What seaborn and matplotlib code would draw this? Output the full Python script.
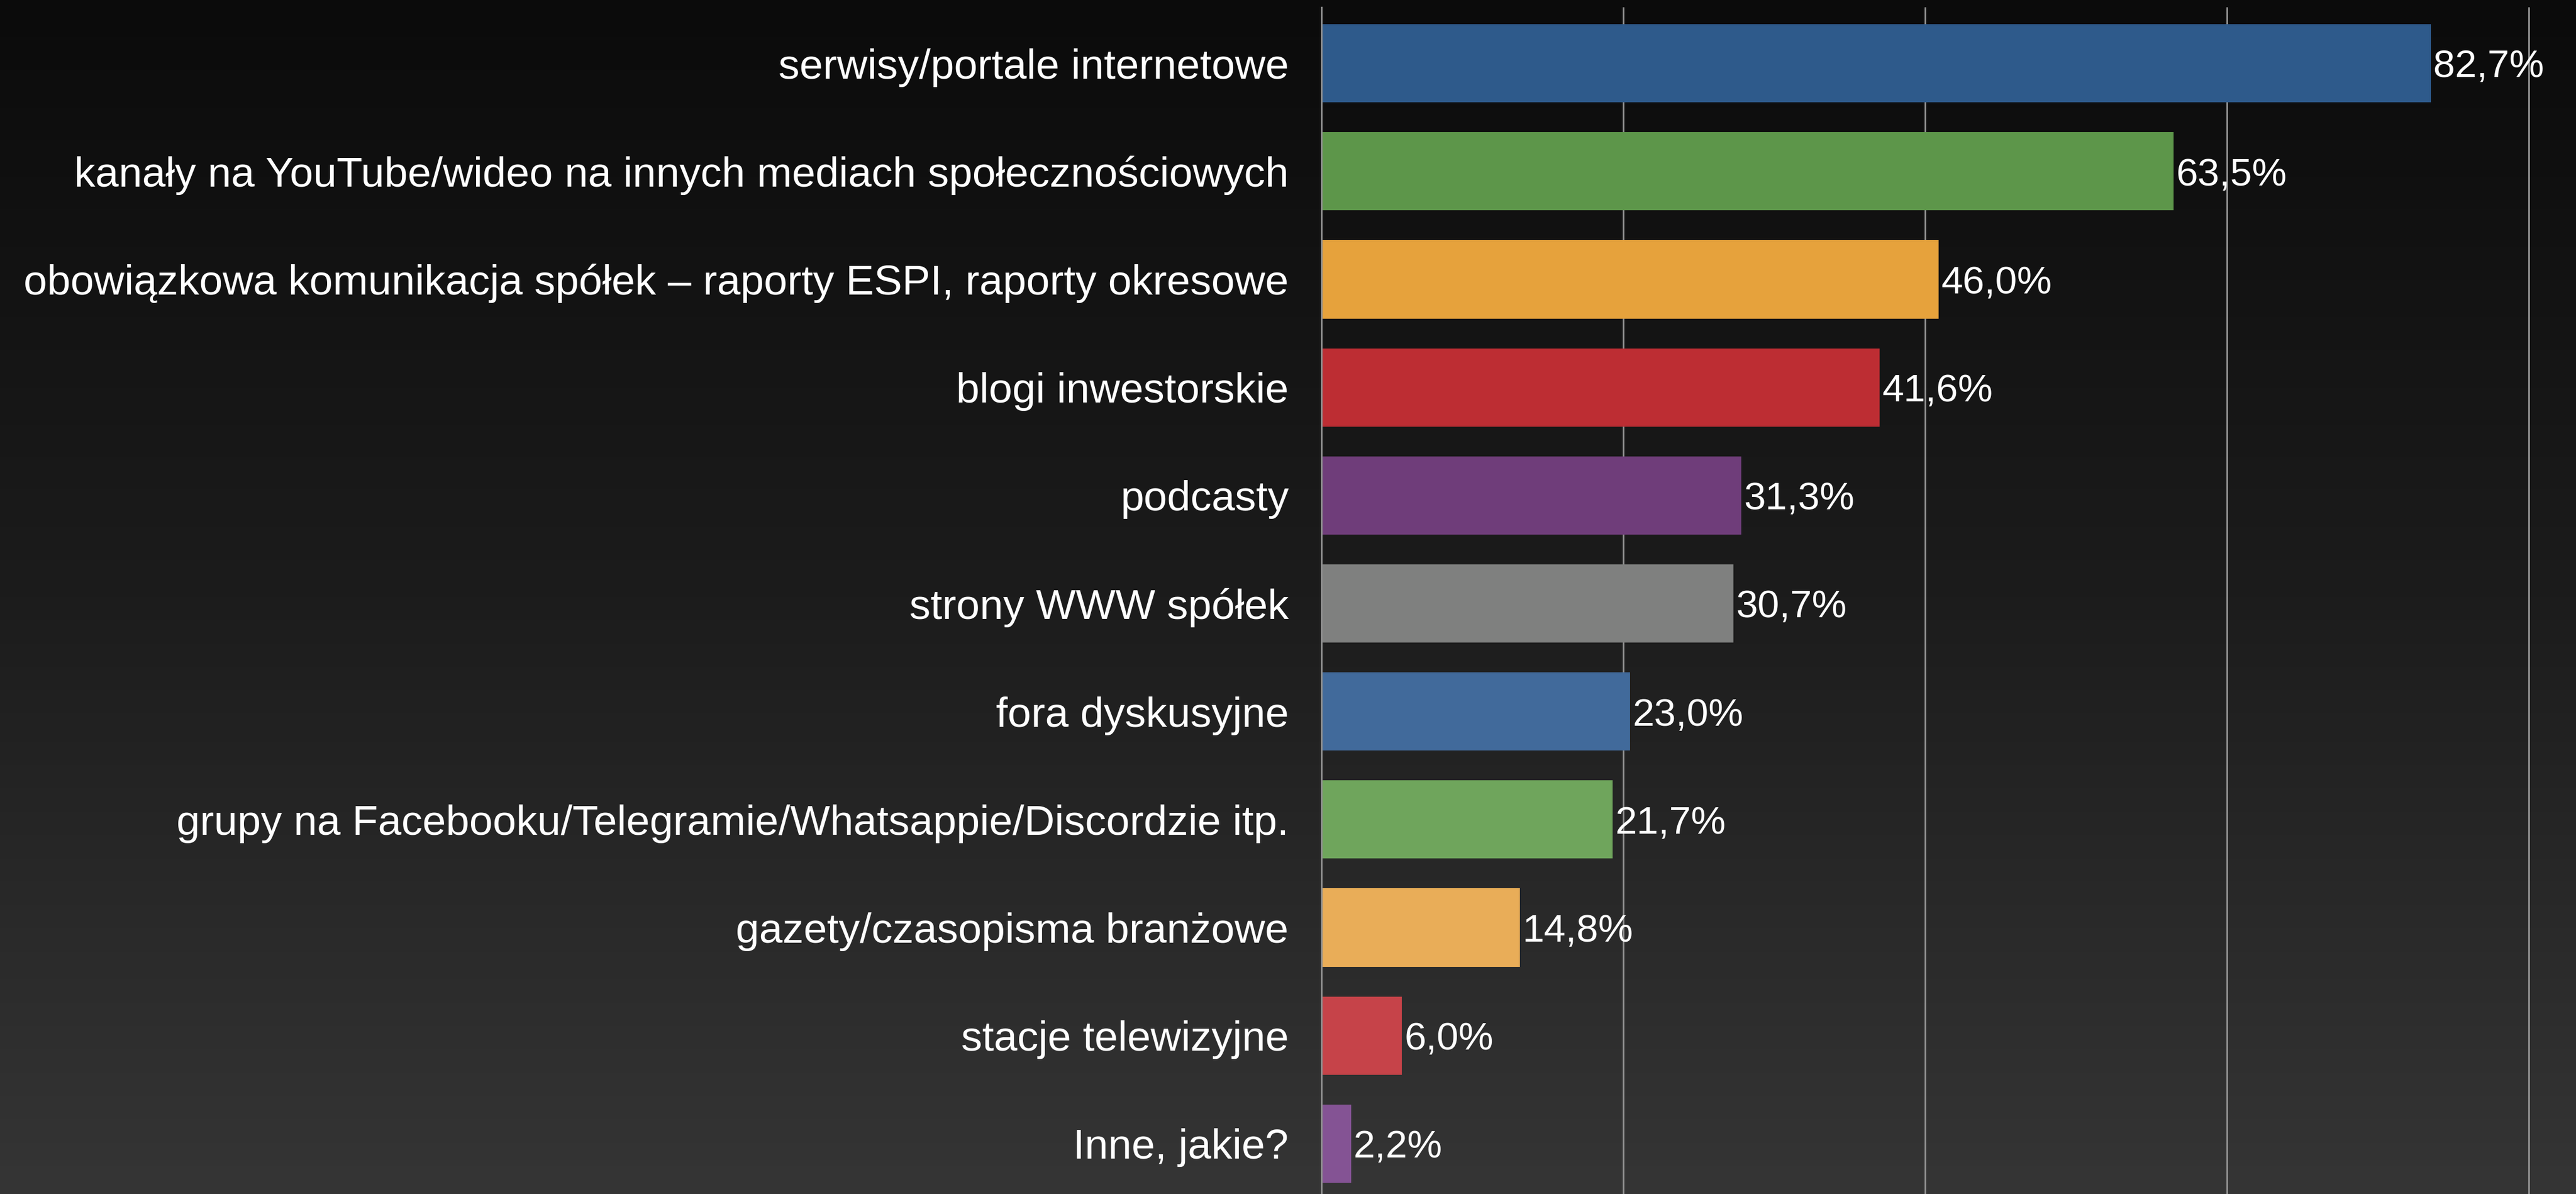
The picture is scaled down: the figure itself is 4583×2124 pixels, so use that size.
import numpy as np
import pandas as pd
import matplotlib
matplotlib.use("Agg")
import matplotlib.pyplot as plt
from matplotlib.colors import LinearSegmentedColormap
import seaborn as sns

categories = [
    "serwisy/portale internetowe",
    "kanały na YouTube/wideo na innych mediach społecznościowych",
    "obowiązkowa komunikacja spółek – raporty ESPI, raporty okresowe",
    "blogi inwestorskie",
    "podcasty",
    "strony WWW spółek",
    "fora dyskusyjne",
    "grupy na Facebooku/Telegramie/Whatsappie/Discordzie itp.",
    "gazety/czasopisma branżowe",
    "stacje telewizyjne",
    "Inne, jakie?",
]
values = [82.7, 63.5, 46.0, 41.6, 31.3, 30.7, 23.0, 21.7, 14.8, 6.0, 2.2]
colors = [
    "#2e5a8b", "#5d964a", "#e6a23c", "#bd2d33", "#6f3d7a", "#7f807f",
    "#416a9b", "#6fa55c", "#e9ad58", "#c64349", "#845394",
]
grid_ticks = [22.5, 45, 67.5, 90]

df = pd.DataFrame({"kategoria": categories, "procent": values})

sns.set_theme(style="white")
plt.rcParams["font.family"] = ["Liberation Sans", "DejaVu Sans"]

W, H, DPI = 4583, 2124, 100
fig = plt.figure(figsize=(W / DPI, H / DPI), dpi=DPI)

# dark vertical gradient behind everything
bg = fig.add_axes([0, 0, 1, 1], zorder=-10)
grad = np.linspace(0, 1, 256).reshape(-1, 1)
cmap = LinearSegmentedColormap.from_list("bg", ["#0b0b0b", "#1c1c1c", "#353535"])
bg.imshow(grad, aspect="auto", cmap=cmap, extent=[0, 1, 0, 1], origin="upper")
bg.set_axis_off()

ax = fig.add_axes([2351 / W, 0.0, 1 - 2351 / W, 1 - 13 / H])
ax.set_facecolor("none")

sns.barplot(
    data=df, y="kategoria", x="procent", hue="kategoria", palette=colors,
    orient="h", dodge=False, legend=False, width=0.724, saturation=1,
    linewidth=0, edgecolor="none", ax=ax,
)

ax.set_xlim(0, 93.5)
ax.set_ylim(10.466, -0.518)
ax.set_xticks(grid_ticks)
ax.set_xticklabels([])
ax.tick_params(axis="x", length=0)
ax.tick_params(axis="y", length=0, pad=42, labelsize=54, labelcolor="white")
ax.xaxis.grid(True, color="#8f8f8f", linewidth=2.2)
ax.yaxis.grid(False)
ax.set_axisbelow(True)
ax.set_xlabel("")
ax.set_ylabel("")
for side in ["top", "right", "bottom"]:
    ax.spines[side].set_visible(False)
ax.spines["left"].set_color("#8f8f8f")
ax.spines["left"].set_linewidth(2.2)

for i, v in enumerate(values):
    ax.annotate(
        f"{v:.1f}%".replace(".", ","), xy=(v, i), xytext=(3, -5),
        textcoords="offset points", ha="left", va="center",
        color="white", fontsize=50,
    )

fig.savefig("out.png", dpi=DPI)
